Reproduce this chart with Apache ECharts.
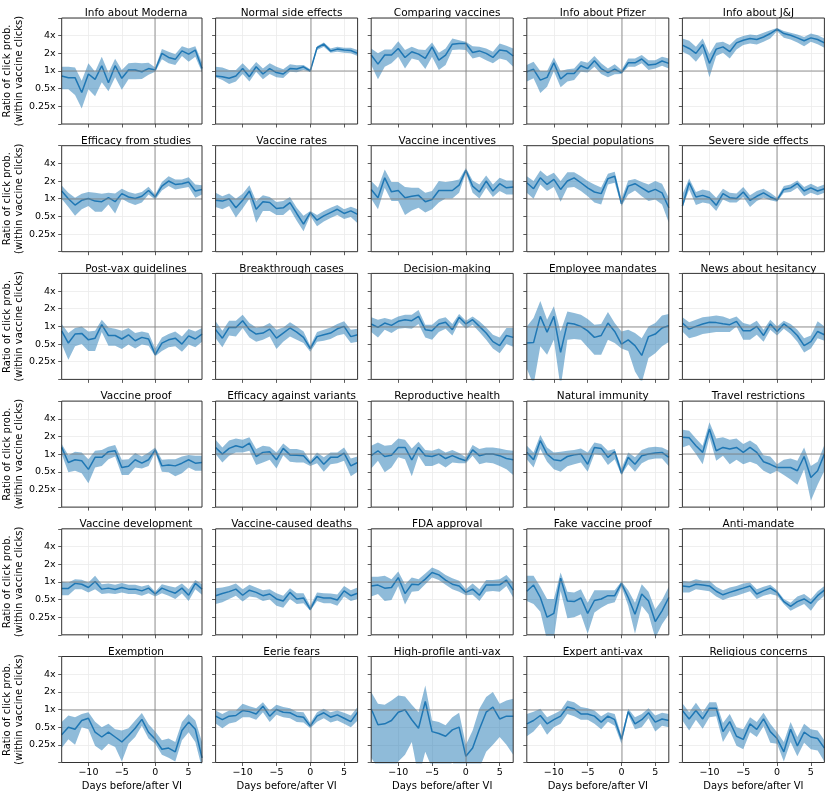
<!DOCTYPE html>
<html><head><meta charset="utf-8">
<script src="https://cdn.jsdelivr.net/npm/echarts@6/dist/echarts.min.js"></script>
<style>html,body{margin:0;padding:0;background:#fff}#c{width:830px;height:795px}</style>
</head><body><div id="c"></div><script>
const days = ['-14','-13','-12','-11','-10','-9','-8','-7','-6','-5','-4','-3','-2','-1','0','1','2','3','4','5','6','7'];
const titles = ['Info about Moderna','Normal side effects','Comparing vaccines','Info about Pfizer','Info about J&J',
'Efficacy from studies','Vaccine rates','Vaccine incentives','Special populations','Severe side effects',
'Post-vax guidelines','Breakthrough cases','Decision-making','Employee mandates','News about hesitancy',
'Vaccine proof','Efficacy against variants','Reproductive health','Natural immunity','Travel restrictions',
'Vaccine development','Vaccine-caused deaths','FDA approval','Fake vaccine proof','Anti-mandate',
'Exemption','Eerie fears','High-profile anti-vax','Expert anti-vax','Religious concerns'];
const yTickValues = [0.25,0.5,1,2,4];

const mean01=[0.82,0.77,0.77,0.43,0.89,0.72,1.23,0.63,1.23,0.75,1.04,1.04,0.97,1.1,1.04,2.0,1.7,1.58,2.2,1.94,2.27,1.1];
const lo01=[0.49,0.49,0.39,0.23,0.49,0.37,0.64,0.45,0.78,0.48,0.72,0.72,0.73,0.86,0.97,1.58,1.35,1.26,1.8,1.44,1.75,0.95];
const hi01=[1.18,1.18,1.15,0.68,1.35,0.97,1.75,0.93,1.62,1.04,1.35,1.38,1.35,1.38,1.15,2.36,2.13,1.92,2.65,2.42,2.65,1.4];
const mean02=[0.82,0.8,0.75,0.82,1.1,0.8,1.18,0.89,1.1,0.94,0.89,1.1,1.08,1.18,1.0,2.49,2.87,2.2,2.36,2.27,2.24,2.0];
const lo02=[0.78,0.7,0.6,0.66,0.89,0.66,0.97,0.72,0.89,0.78,0.76,0.97,0.95,1.04,0.96,2.27,2.58,2.04,2.13,2.04,2.0,1.8];
const hi02=[1.18,1.15,1.04,1.04,1.35,1.04,1.42,1.1,1.35,1.18,1.07,1.3,1.25,1.27,1.07,2.65,3.05,2.42,2.58,2.49,2.49,2.27];
const mean03=[1.87,1.31,1.87,1.87,2.42,1.7,2.13,1.94,1.64,2.58,1.53,1.87,2.87,2.94,2.94,2.07,2.2,2.0,1.7,2.27,2.2,1.8];
const lo03=[1.26,0.72,1.18,1.35,1.75,1.1,1.64,1.53,1.08,1.75,1.04,1.26,2.27,2.33,2.27,1.64,1.75,1.53,1.35,1.64,1.53,1.18];
const hi03=[2.42,2.0,2.33,2.33,3.22,2.27,2.58,2.33,2.27,3.05,2.04,2.42,3.57,3.35,3.14,2.65,2.58,2.42,2.13,2.94,2.7,2.42];
const mean04=[0.97,1.07,0.7,0.78,1.38,0.73,0.91,0.91,1.23,1.1,1.5,1.1,0.94,1.07,0.94,1.38,1.38,1.6,1.26,1.3,1.48,1.35];
const lo04=[0.66,0.75,0.42,0.54,1.0,0.53,0.66,0.7,0.97,0.94,1.18,0.89,0.78,0.88,0.89,1.18,1.18,1.35,1.04,1.1,1.23,1.1];
const hi04=[1.26,1.44,1.0,1.0,1.7,1.0,1.07,1.1,1.48,1.38,1.8,1.35,1.1,1.3,1.04,1.64,1.64,1.87,1.53,1.53,1.75,1.64];
const mean05=[2.76,2.42,2.0,2.83,1.35,2.36,2.58,2.13,3.02,3.35,3.57,3.44,3.8,4.35,5.16,4.35,4.07,3.67,3.27,3.67,3.44,3.02];
const lo05=[2.13,1.87,1.44,2.0,0.78,1.8,2.04,1.64,2.33,2.76,2.94,2.83,3.14,3.57,4.76,3.7,3.44,3.07,2.65,3.14,2.87,2.49];
const hi05=[3.57,3.27,2.58,3.57,1.94,3.02,3.14,2.76,3.57,3.93,4.17,4.07,4.5,4.95,5.4,4.8,4.5,4.17,3.8,4.35,4.07,3.57];
const mean06=[1.35,1.0,0.78,0.94,1.01,0.91,0.89,1.04,0.89,1.22,1.07,1.01,1.1,1.38,1.07,1.64,2.0,1.75,1.8,1.92,1.35,1.44];
const lo06=[1.0,0.72,0.51,0.66,0.75,0.6,0.6,0.8,0.56,1.0,0.86,0.78,0.86,1.18,0.97,1.38,1.64,1.44,1.5,1.58,1.04,1.18];
const hi06=[1.68,1.26,1.04,1.22,1.3,1.26,1.22,1.26,1.23,1.48,1.3,1.22,1.3,1.6,1.18,1.92,2.42,2.13,2.13,2.33,1.75,1.7];
const mean07=[0.94,0.91,1.0,0.7,0.94,1.35,0.66,0.89,0.86,0.68,0.7,0.86,0.56,0.37,0.58,0.43,0.51,0.58,0.66,0.56,0.62,0.54];
const lo07=[0.72,0.66,0.75,0.48,0.68,1.0,0.39,0.62,0.62,0.53,0.53,0.66,0.42,0.28,0.51,0.34,0.41,0.47,0.53,0.45,0.49,0.38];
const hi07=[1.26,1.1,1.23,1.0,1.22,1.7,0.91,1.14,1.07,0.88,0.91,1.07,0.7,0.51,0.62,0.53,0.62,0.7,0.78,0.66,0.73,0.66];
const mean08=[1.44,1.04,2.27,1.31,1.38,1.04,1.1,1.14,0.89,0.97,1.38,1.38,1.38,1.7,3.05,1.64,1.3,2.0,1.35,1.8,1.53,1.58];
const lo08=[1.0,0.66,1.53,0.91,0.91,0.53,0.63,0.7,0.58,0.66,0.86,1.01,1.01,1.26,2.76,1.26,1.01,1.53,1.07,1.35,1.18,1.18];
const hi08=[2.0,1.53,3.14,1.92,1.92,1.58,1.53,1.53,1.26,1.35,2.0,1.92,2.0,2.13,3.35,2.04,1.75,2.49,1.75,2.27,2.04,2.04];
const mean09=[1.87,1.48,2.27,1.75,2.13,1.44,2.0,2.27,1.87,1.53,1.3,1.22,2.2,2.42,0.82,1.64,1.8,1.53,1.3,1.44,1.26,0.7];
const lo09=[1.26,1.0,1.75,1.35,1.58,0.89,1.53,1.58,1.35,1.1,0.86,0.8,1.75,1.87,0.75,1.18,1.38,1.1,0.91,0.97,0.8,0.39];
const hi09=[2.42,2.0,3.02,2.42,2.76,2.0,2.83,2.83,2.42,2.0,1.75,1.55,2.65,2.87,1.0,2.04,2.16,1.92,1.75,2.0,1.8,1.04];
const mean10=[0.75,1.87,1.07,1.14,1.04,0.77,1.22,1.04,1.01,1.3,0.94,1.1,1.26,1.07,0.95,1.44,1.53,1.82,1.35,1.53,1.35,1.48];
const lo10=[0.7,1.44,0.78,0.86,0.82,0.62,0.97,0.86,0.86,1.07,0.72,0.91,1.04,0.94,0.89,1.26,1.3,1.53,1.1,1.26,1.15,1.26];
const hi10=[1.18,2.2,1.3,1.44,1.35,1.04,1.48,1.26,1.23,1.58,1.14,1.35,1.48,1.26,1.04,1.64,1.75,2.04,1.58,1.8,1.58,1.75];
const mean11=[0.84,0.52,0.74,0.76,0.59,0.63,1.07,0.7,0.7,0.61,0.72,0.57,0.65,0.61,0.33,0.52,0.59,0.63,0.5,0.69,0.61,0.74];
const lo11=[0.5,0.27,0.46,0.5,0.38,0.38,0.8,0.47,0.47,0.41,0.49,0.42,0.49,0.47,0.31,0.38,0.44,0.46,0.37,0.49,0.44,0.55];
const hi11=[1.1,0.77,0.94,1.0,0.82,0.84,1.3,0.96,0.91,0.84,0.94,0.77,0.82,0.77,0.42,0.65,0.74,0.82,0.67,0.9,0.82,0.94];
const mean12=[0.88,0.63,0.96,0.96,1.25,0.88,0.74,0.77,0.9,0.63,0.77,0.94,0.8,0.65,0.42,0.67,0.72,0.77,0.91,1.0,0.67,0.72];
const lo12=[0.63,0.44,0.7,0.67,0.94,0.65,0.55,0.59,0.67,0.41,0.55,0.67,0.59,0.52,0.37,0.55,0.57,0.61,0.7,0.74,0.52,0.55];
const hi12=[1.22,0.84,1.25,1.25,1.58,1.14,0.96,1.0,1.14,0.88,0.96,1.18,1.0,0.82,0.47,0.8,0.88,0.96,1.1,1.22,0.88,0.91];
const mean13=[1.1,0.96,1.14,1.04,1.22,1.3,1.25,1.48,0.88,0.84,1.1,1.18,0.88,1.43,1.1,1.3,1.0,0.77,0.55,0.47,0.7,0.65];
const lo13=[0.8,0.65,0.88,0.77,0.91,0.94,0.91,1.1,0.65,0.59,0.8,0.91,0.7,1.18,0.91,1.07,0.8,0.59,0.42,0.35,0.5,0.45];
const hi13=[1.43,1.3,1.39,1.3,1.48,1.58,1.58,1.9,1.07,1.07,1.34,1.43,1.1,1.63,1.25,1.48,1.22,0.96,0.72,0.65,0.94,0.94];
const mean14=[0.52,0.53,1.48,0.8,1.48,0.36,1.14,1.1,1.0,0.84,0.65,0.7,1.14,0.82,0.5,0.59,0.47,0.32,0.67,0.74,0.94,1.03];
const lo14=[0.19,0.1,0.46,0.33,0.59,0.09,0.59,0.61,0.59,0.44,0.33,0.33,0.59,0.52,0.42,0.38,0.17,0.11,0.29,0.35,0.46,0.54];
const hi14=[1.0,1.39,2.7,1.3,2.2,0.82,1.8,1.7,1.58,1.34,1.07,1.1,1.76,1.14,0.82,0.88,0.77,0.63,1.0,1.14,1.54,1.63];
const mean15=[1.14,0.9,1.0,1.1,1.18,1.16,1.11,1.07,1.22,0.84,0.84,1.0,0.7,1.1,0.82,1.1,0.91,0.7,0.47,0.55,0.82,0.72];
const lo15=[0.82,0.63,0.67,0.74,0.77,0.8,0.8,0.8,1.0,0.59,0.59,0.72,0.55,0.88,0.7,0.91,0.74,0.55,0.36,0.42,0.63,0.57];
const hi15=[1.43,1.18,1.3,1.43,1.48,1.54,1.48,1.34,1.48,1.14,1.07,1.25,0.88,1.3,1.0,1.25,1.1,0.88,0.63,0.7,1.22,1.0];
const mean16=[1.3,0.72,0.8,0.77,0.55,0.88,0.88,1.1,1.14,0.59,0.62,0.8,0.7,0.8,1.18,0.63,0.65,0.63,0.7,0.8,0.7,0.72];
const lo16=[1.0,0.49,0.52,0.47,0.32,0.59,0.63,0.82,0.91,0.44,0.44,0.59,0.57,0.63,1.07,0.5,0.49,0.42,0.47,0.59,0.52,0.52];
const hi16=[1.48,0.96,1.1,1.07,0.82,1.14,1.18,1.34,1.43,0.8,0.82,1.04,0.91,1.07,1.3,0.8,0.82,0.82,0.91,0.97,0.94,0.94];
const mean17=[1.3,1.0,1.25,1.39,1.3,1.54,0.91,1.07,1.1,0.8,1.25,0.97,0.96,0.94,0.7,0.91,0.67,0.88,0.88,1.04,0.63,0.72];
const lo17=[1.0,0.72,0.94,1.07,1.07,1.14,0.65,0.72,0.8,0.57,0.96,0.74,0.72,0.72,0.63,0.7,0.5,0.67,0.7,0.77,0.42,0.5];
const hi17=[1.76,1.3,1.7,1.85,1.76,1.93,1.22,1.39,1.34,1.07,1.52,1.22,1.22,1.14,0.77,1.07,0.88,1.07,1.07,1.3,0.84,0.91];
const mean18=[0.94,1.14,0.91,0.96,1.3,1.3,0.8,1.3,0.94,0.91,1.0,0.84,0.94,0.84,0.77,1.18,0.94,1.0,1.0,0.94,0.84,0.8];
const lo18=[0.57,0.77,0.49,0.59,0.88,0.82,0.42,0.94,0.63,0.63,0.7,0.59,0.72,0.7,0.7,0.94,0.67,0.72,0.7,0.63,0.55,0.44];
const hi18=[1.39,1.58,1.39,1.43,1.85,1.76,1.25,1.63,1.18,1.14,1.25,1.07,1.18,1.04,0.88,1.43,1.22,1.3,1.3,1.25,1.18,1.14];
const mean19=[1.07,0.8,1.7,1.0,0.8,0.77,0.91,0.97,1.0,0.67,1.3,1.25,0.88,1.1,0.47,0.88,0.67,0.94,1.0,1.04,1.07,0.88];
const lo19=[0.82,0.59,1.22,0.74,0.55,0.5,0.62,0.67,0.72,0.5,1.0,0.96,0.65,0.82,0.44,0.67,0.5,0.7,0.8,0.84,0.84,0.62];
const hi19=[1.39,1.07,2.12,1.3,1.07,1.1,1.14,1.18,1.25,1.07,1.58,1.48,1.14,1.22,0.57,1.07,0.88,1.18,1.3,1.34,1.3,1.14];
const mean20=[1.93,1.9,1.39,1.07,2.68,1.14,1.3,1.22,1.3,1.07,1.3,1.07,0.74,0.67,0.59,0.59,0.59,0.52,0.91,0.4,0.52,1.0];
const lo20=[1.3,1.43,1.0,0.67,1.93,0.77,0.94,0.67,0.8,0.67,0.74,0.67,0.52,0.46,0.52,0.44,0.37,0.3,0.55,0.16,0.3,0.52];
const hi20=[2.6,2.5,1.85,1.39,3.5,1.85,1.93,1.76,1.85,1.48,1.7,1.43,0.96,0.91,0.67,0.8,0.84,0.77,1.3,0.63,0.74,1.43];
const mean21=[0.77,0.77,0.94,0.91,0.8,1.01,0.75,0.78,0.74,0.8,0.75,0.75,0.7,0.78,0.62,0.78,0.7,0.64,0.78,0.59,0.94,0.75];
const lo21=[0.59,0.59,0.75,0.75,0.66,0.75,0.62,0.64,0.62,0.66,0.62,0.62,0.58,0.64,0.56,0.64,0.58,0.51,0.63,0.47,0.75,0.6];
const hi21=[1.0,0.97,1.11,1.08,0.97,1.27,0.91,0.94,0.89,0.95,0.89,0.89,0.83,0.89,0.68,0.91,0.85,0.8,0.94,0.75,1.07,0.91];
const mean22=[0.58,0.63,0.68,0.75,0.59,0.72,0.66,0.58,0.62,0.51,0.47,0.66,0.51,0.53,0.34,0.56,0.53,0.53,0.49,0.7,0.58,0.64];
const lo22=[0.42,0.45,0.51,0.58,0.46,0.56,0.54,0.47,0.5,0.39,0.36,0.51,0.42,0.43,0.32,0.47,0.43,0.43,0.39,0.56,0.47,0.51];
const hi22=[0.78,0.8,0.85,0.94,0.75,0.89,0.8,0.72,0.75,0.64,0.58,0.78,0.64,0.64,0.39,0.66,0.64,0.63,0.61,0.85,0.72,0.8];
const mean23=[0.85,0.88,0.78,0.8,1.18,0.63,0.91,0.89,1.11,1.44,1.31,1.07,0.91,0.85,0.66,0.75,0.59,0.88,0.88,0.89,1.07,0.72];
const lo23=[0.56,0.62,0.47,0.49,0.85,0.41,0.68,0.7,0.91,1.18,1.07,0.89,0.75,0.68,0.59,0.6,0.47,0.68,0.7,0.68,0.85,0.54];
const hi23=[1.22,1.22,1.27,1.11,1.5,0.91,1.18,1.11,1.38,1.76,1.58,1.3,1.15,1.04,0.75,0.94,0.75,1.07,1.07,1.11,1.31,0.97];
const mean24=[0.69,0.88,0.54,0.25,0.29,1.15,0.47,0.46,0.53,0.29,0.48,0.51,0.58,0.58,0.94,0.54,0.28,0.62,0.47,0.21,0.32,0.54];
const lo24=[0.47,0.42,0.31,0.1,0.11,0.7,0.24,0.25,0.28,0.13,0.3,0.36,0.42,0.45,0.82,0.39,0.13,0.39,0.28,0.11,0.19,0.28];
const hi24=[1.27,1.27,0.82,0.51,0.51,1.44,0.68,0.66,0.75,0.44,0.72,0.72,0.72,0.72,1.01,0.72,0.44,0.91,0.68,0.34,0.49,0.82];
const mean25=[0.85,0.82,0.91,0.88,0.85,0.69,0.6,0.66,0.72,0.78,0.85,0.62,0.7,0.78,0.66,0.46,0.38,0.46,0.51,0.43,0.58,0.72];
const lo25=[0.66,0.66,0.75,0.72,0.69,0.56,0.49,0.54,0.58,0.63,0.69,0.51,0.58,0.62,0.58,0.42,0.32,0.37,0.42,0.32,0.46,0.58];
const hi25=[1.04,1.0,1.11,1.04,1.04,0.82,0.72,0.8,0.85,0.94,0.97,0.75,0.82,0.89,0.72,0.51,0.44,0.56,0.62,0.51,0.69,0.85];
const mean26=[0.37,0.5,0.46,0.65,0.71,0.41,0.34,0.41,0.34,0.28,0.36,0.48,0.68,0.41,0.31,0.21,0.22,0.19,0.44,0.61,0.46,0.15];
const lo26=[0.22,0.31,0.25,0.5,0.46,0.24,0.2,0.26,0.23,0.13,0.26,0.34,0.53,0.32,0.26,0.17,0.15,0.13,0.3,0.41,0.28,0.1];
const hi26=[0.61,0.79,0.74,0.84,0.9,0.62,0.5,0.57,0.46,0.44,0.48,0.65,0.87,0.56,0.42,0.3,0.32,0.28,0.61,0.84,0.65,0.28];
const mean27=[0.77,0.67,0.77,0.79,0.96,0.92,0.84,1.14,0.77,1.0,0.9,0.88,0.77,0.74,0.52,0.77,0.88,0.74,0.81,0.71,0.62,0.9];
const lo27=[0.58,0.48,0.58,0.61,0.74,0.74,0.67,0.9,0.61,0.81,0.74,0.71,0.61,0.6,0.48,0.62,0.71,0.6,0.65,0.57,0.5,0.65];
const hi27=[0.96,0.84,0.96,0.96,1.25,1.14,1.05,1.33,0.96,1.2,1.1,1.05,0.92,0.9,0.59,0.9,1.03,0.9,0.96,0.88,0.79,1.1];
const mean28=[1.03,0.55,0.57,0.65,0.9,0.99,0.67,0.48,1.37,0.42,0.39,0.35,0.45,0.5,0.16,0.22,0.46,0.9,1.1,0.69,0.77,0.77];
const lo28=[0.15,0.1,0.07,0.07,0.13,0.17,0.28,0.07,0.19,0.1,0.07,0.07,0.13,0.07,0.07,0.07,0.1,0.19,0.25,0.34,0.25,0.17];
const hi28=[1.98,1.25,1.2,1.43,1.73,1.67,1.2,0.9,2.57,0.65,0.61,0.54,0.74,0.88,0.25,0.44,1.03,1.63,1.98,1.25,1.43,1.52];
const mean29=[0.57,0.65,0.79,0.57,0.67,0.77,1.1,1.03,0.84,0.84,0.77,0.61,0.77,0.67,0.31,0.92,0.57,0.67,0.88,0.61,0.69,0.65];
const lo29=[0.35,0.42,0.57,0.37,0.5,0.57,0.84,0.77,0.67,0.67,0.57,0.46,0.62,0.53,0.26,0.81,0.46,0.5,0.71,0.42,0.53,0.5];
const hi29=[0.84,0.92,1.03,0.74,0.84,0.96,1.43,1.33,1.1,1.05,0.96,0.77,0.9,0.84,0.36,1.03,0.74,0.84,1.05,0.79,0.88,0.84];
const mean30=[0.96,0.69,0.96,0.69,1.05,1.05,0.42,0.62,0.35,0.31,0.57,0.46,0.69,0.42,0.32,0.19,0.46,0.24,0.41,0.34,0.32,0.22];
const lo30=[0.65,0.44,0.67,0.47,0.74,0.77,0.28,0.44,0.24,0.21,0.41,0.34,0.52,0.27,0.26,0.13,0.28,0.16,0.27,0.21,0.2,0.13];
const hi30=[1.28,0.9,1.3,0.9,1.33,1.33,0.59,0.84,0.5,0.46,0.74,0.61,0.88,0.57,0.41,0.28,0.61,0.34,0.57,0.46,0.44,0.3];

const means=[mean01,mean02,mean03,mean04,mean05,mean06,mean07,mean08,mean09,mean10,mean11,mean12,mean13,mean14,mean15,mean16,mean17,mean18,mean19,mean20,mean21,mean22,mean23,mean24,mean25,mean26,mean27,mean28,mean29,mean30];
const los=[lo01,lo02,lo03,lo04,lo05,lo06,lo07,lo08,lo09,lo10,lo11,lo12,lo13,lo14,lo15,lo16,lo17,lo18,lo19,lo20,lo21,lo22,lo23,lo24,lo25,lo26,lo27,lo28,lo29,lo30];
const his=[hi01,hi02,hi03,hi04,hi05,hi06,hi07,hi08,hi09,hi10,hi11,hi12,hi13,hi14,hi15,hi16,hi17,hi18,hi19,hi20,hi21,hi22,hi23,hi24,hi25,hi26,hi27,hi28,hi29,hi30];

const FONT = 'DejaVu Sans';
const colLeft=[60,215.6,371.2,526.8,682.4];
const rowTop=[18,145.7,273.4,401.1,528.8,656.5];
const panelW=142, panelH=106;
const BLUE='#1f77b4';
const REF='rgba(128,128,128,0.55)';

const grids=[], xAxes=[], yAxes=[], series=[], titleArr=[];
const everyFive=(idx,v)=>(+v)%5===0;
titles.forEach((t,i)=>{
  const r=Math.floor(i/5), c=i%5;
  const left=colLeft[c], top=rowTop[r];
  grids.push({left:left, top:top, width:panelW, height:panelH, show:true, borderColor:'#333', borderWidth:1, backgroundColor:'rgba(0,0,0,0)', z:10});
  titleArr.push({text:t, left:left+panelW/2, top:top-15, textAlign:'center',
    textStyle:{fontFamily:FONT, fontSize:10.5, fontWeight:'normal', color:'#000'}});
  xAxes.push({type:'category', gridIndex:i, data:days, boundaryGap:false,
    axisLine:{show:false},
    axisTick:{show:true, length:3.5, interval:everyFive, lineStyle:{color:'#333', width:0.8}},
    axisLabel:{show:r===5, interval:everyFive, formatter:v=>v.replace('-','\u2212'), fontFamily:FONT, fontSize:9.5, color:'#000', margin:5},
    splitLine:{show:true, interval:everyFive, lineStyle:{color:'#ebebeb', width:0.8}},
    name: r===5?'Days before/after VI':'', nameLocation:'middle', nameGap:19,
    nameTextStyle:{fontFamily:FONT, fontSize:10, color:'#000'}});
  yAxes.push({type:'log', logBase:2, gridIndex:i, min:0.125, max:8, splitNumber:6,
    axisLine:{show:false},
    axisTick:{show:true, length:3.5, lineStyle:{color:'#333', width:0.8}},
    axisLabel:{show:c===0, fontFamily:FONT, fontSize:9.5, color:'#000', margin:6,
      formatter:v=>{const m=yTickValues.find(x=>Math.abs(x-v)<1e-6); return m!==undefined? (m+'x') : '';}},
    splitLine:{show:true, lineStyle:{color:'#ebebeb', width:0.8}},
    name: c===0?'Ratio of click prob.\n(within vaccine clicks)':'', nameLocation:'middle', nameGap:27, nameRotate:90,
    nameTextStyle:{fontFamily:FONT, fontSize:10, color:'#000', lineHeight:12}});
  const lo=los[i], hi=his[i];
  series.push({type:'line', xAxisIndex:i, yAxisIndex:i, data:lo, stack:'band'+i, symbol:'none', silent:true,
    color:'#888', lineStyle:{opacity:0}, z:1});
  series.push({type:'line', xAxisIndex:i, yAxisIndex:i, data:hi.map((h,k)=>h-lo[k]), stack:'band'+i, symbol:'none', silent:true,
    color:'#888', lineStyle:{opacity:0}, areaStyle:{color:'rgba(31,119,180,0.5)', opacity:1}, z:2,
    markLine:{silent:true, symbol:'none', label:{show:false}, animation:false,
      itemStyle:{color:REF}, lineStyle:{color:REF, width:1.5, type:'solid', opacity:1},
      data:[{yAxis:1},{xAxis:'0'}]}});
  series.push({type:'line', xAxisIndex:i, yAxisIndex:i, data:means[i], symbol:'none', silent:true,
    color:BLUE, lineStyle:{color:BLUE, width:1.5}, z:3});
});

const chart=echarts.init(document.getElementById('c'), null, {renderer:'canvas'});
chart.setOption({animation:false, backgroundColor:'#fff', title:titleArr, grid:grids, xAxis:xAxes, yAxis:yAxes, series:series});
</script></body></html>
